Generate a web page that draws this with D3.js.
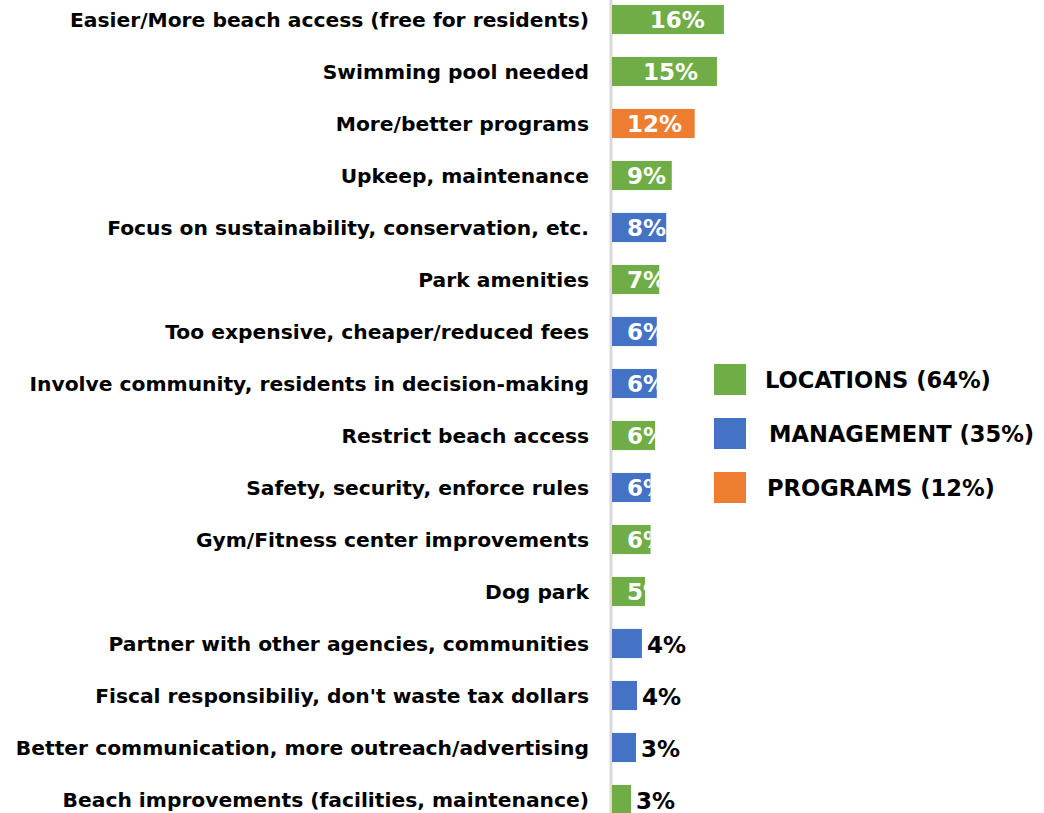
<!DOCTYPE html>
<html>
<head>
<meta charset="utf-8">
<script src="https://cdn.jsdelivr.net/npm/d3@7/dist/d3.min.js"></script>
<style>
  html, body { margin: 0; padding: 0; background: #fff; }
  svg { display: block; }
</style>
</head>
<body>
<svg id="chart" width="1044" height="813"></svg>
<script>
// Suggested improvements, share of responses
const categories = [
  "Easier/More beach access (free for residents)",
  "Swimming pool needed",
  "More/better programs",
  "Upkeep, maintenance",
  "Focus on sustainability, conservation, etc.",
  "Park amenities",
  "Too expensive, cheaper/reduced fees",
  "Involve community, residents in decision-making",
  "Restrict beach access",
  "Safety, security, enforce rules",
  "Gym/Fitness center improvements",
  "Dog park",
  "Partner with other agencies, communities",
  "Fiscal responsibiliy, don't waste tax dollars",
  "Better communication, more outreach/advertising",
  "Beach improvements (facilities, maintenance)"
];
const values = [0.161, 0.151, 0.119, 0.086, 0.078, 0.068, 0.0645, 0.0645,
                0.062, 0.0555, 0.0555, 0.0475, 0.043, 0.036, 0.0345, 0.0275];
const groups = ["LOCATIONS", "LOCATIONS", "PROGRAMS", "LOCATIONS", "MANAGEMENT",
                "LOCATIONS", "MANAGEMENT", "MANAGEMENT", "LOCATIONS", "MANAGEMENT",
                "LOCATIONS", "LOCATIONS", "MANAGEMENT", "MANAGEMENT", "MANAGEMENT",
                "LOCATIONS"];
const legendGroups = ["LOCATIONS", "MANAGEMENT", "PROGRAMS"];
const legendLabels = ["LOCATIONS (64%)", "MANAGEMENT (35%)", "PROGRAMS (12%)"];

const rows = categories.map((c, i) => ({ cat: c, value: values[i], group: groups[i] }));

const svg = d3.select("#chart");
const FONT = "'DejaVu Sans', sans-serif";

const color = d3.scaleOrdinal()
  .domain(legendGroups)
  .range(["#70AD47", "#4472C4", "#ED7D31"]);

const x0 = 612;
const x = d3.scaleLinear().domain([0, 1]).range([x0, x0 + 695]);
const y = d3.scaleBand().domain(categories).range([-6.5, 825.5])
  .paddingInner(0.44).paddingOuter(0.22);

const fmt = d3.format(".0%");

// category axis line
svg.append("line")
  .attr("x1", x0 - 1).attr("x2", x0 - 1)
  .attr("y1", 0).attr("y2", 813)
  .attr("stroke", "#D9D9D9").attr("stroke-width", 3);

// category labels
svg.append("g").selectAll("text")
  .data(rows).join("text")
  .attr("x", 589)
  .attr("y", d => y(d.cat) + y.bandwidth() / 2)
  .attr("dy", "0.36em")
  .attr("text-anchor", "end")
  .style("font-family", FONT)
  .style("font-weight", "bold")
  .style("font-size", "20.25px")
  .attr("fill", "#000")
  .text(d => d.cat);

const defs = svg.append("defs");
const bars = svg.append("g");

rows.forEach((d, i) => {
  const bx = x(0), bw = x(d.value) - x(0);
  const by = y(d.cat), bh = y.bandwidth();
  const cy = by + bh / 2;
  bars.append("rect")
    .attr("x", bx).attr("y", by)
    .attr("width", bw).attr("height", bh)
    .attr("fill", color(d.group));

  // larger bars carry a white label at the inner end, clipped to the bar
  const inside = d.value >= 0.045;
  if (inside) {
    const id = "clip" + i;
    defs.append("clipPath").attr("id", id)
      .append("rect").attr("x", bx).attr("y", by).attr("width", bw).attr("height", bh);
    const t = bars.append("text")
      .attr("clip-path", `url(#${id})`)
      .attr("y", cy).attr("dy", "0.36em")
      .style("font-family", FONT)
      .style("font-weight", "bold")
      .style("font-size", "23px")
      .attr("fill", "#fff")
      .text(fmt(d.value));
    const w = t.node().getComputedTextLength();
    const tx = Math.max(bx + 15, bx + bw - 19 - w);
    t.attr("x", tx);
  } else {
    bars.append("text")
      .attr("x", bx + bw + 5)
      .attr("y", cy + 1.5).attr("dy", "0.36em")
      .style("font-family", FONT)
      .style("font-weight", "bold")
      .style("font-size", "23px")
      .attr("fill", "#000")
      .text(fmt(d.value));
  }
});

// legend
const legend = svg.append("g");
legendGroups.forEach((g, i) => {
  const ly = 364 + i * 54;
  legend.append("rect")
    .attr("x", 714).attr("y", ly)
    .attr("width", 32).attr("height", 31)
    .attr("fill", color(g));
  legend.append("text")
    .attr("x", [765, 769, 767][i]).attr("y", ly + 15.5).attr("dy", "0.36em")
    .style("font-family", FONT)
    .style("font-weight", "bold")
    .style("font-size", "22.6px")
    .attr("fill", "#000")
    .text(legendLabels[i]);
});
</script>
</body>
</html>
